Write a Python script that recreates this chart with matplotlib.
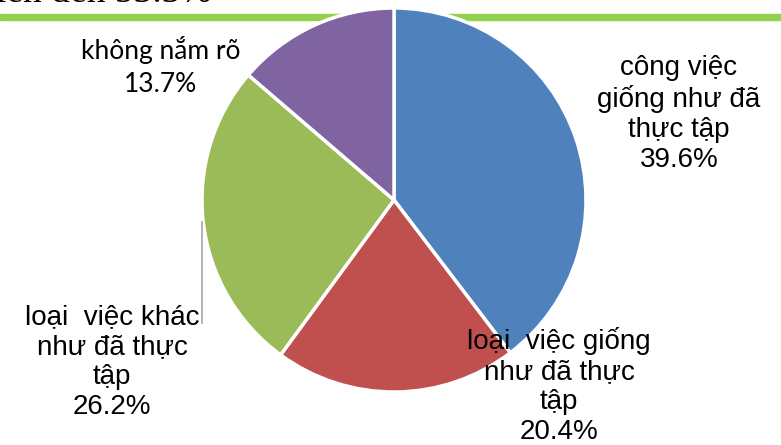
import matplotlib.pyplot as plt

# slice data, clockwise from the top
labels = ["công việc\ngiống như đã\nthực tập", "loại  việc giống\nnhư đã thực\ntập",
          "loại  việc khác\nnhư đã thực\ntập", "không nắm rõ"]
shares = [39.6, 20.4, 26.2, 13.7]
colors = ["#4F81BD", "#C0504D", "#9BBB59", "#8064A2"]

W, H = 781, 445
fig = plt.figure(figsize=(W / 100, H / 100), dpi=100)
ax = fig.add_axes([0, 0, 1, 1])

# green rule behind the pie
ax.axhspan(H - 20, H - 14, color="#92D050", zorder=0)

# clipped heading from the slide above
ax.text(212, H - 2, "lên đến 53.3%", ha="right", va="baseline",
        fontsize=27, family="Liberation Serif", color="black")

ax.pie(shares, colors=colors, startangle=90, counterclock=False,
       center=(394, H - 200), radius=192,
       wedgeprops=dict(edgecolor="white", linewidth=2.5))

# data labels (image coords of centre)
pos = [(679, 114), (559, 386), (112, 362), (161, 67)]
for lab, val, (x, y) in zip(labels, shares, pos):
    calibri = lab == "không nắm rõ"
    ax.text(x, H - y, f"{lab}\n{val}%", ha="center", va="center",
            fontsize=19 if calibri else 20,
            family="Lato" if calibri else "Liberation Sans",
            linespacing=1.4 if calibri else 1.19, color="black")

# leader line for the green slice
ax.plot([202, 202], [H - 222, H - 323], color="#A6A6A6", lw=1.2)

ax.set_xlim(0, W)
ax.set_ylim(0, H)
ax.set_aspect("equal")
ax.axis("off")
fig.savefig("out.png", dpi=100)
